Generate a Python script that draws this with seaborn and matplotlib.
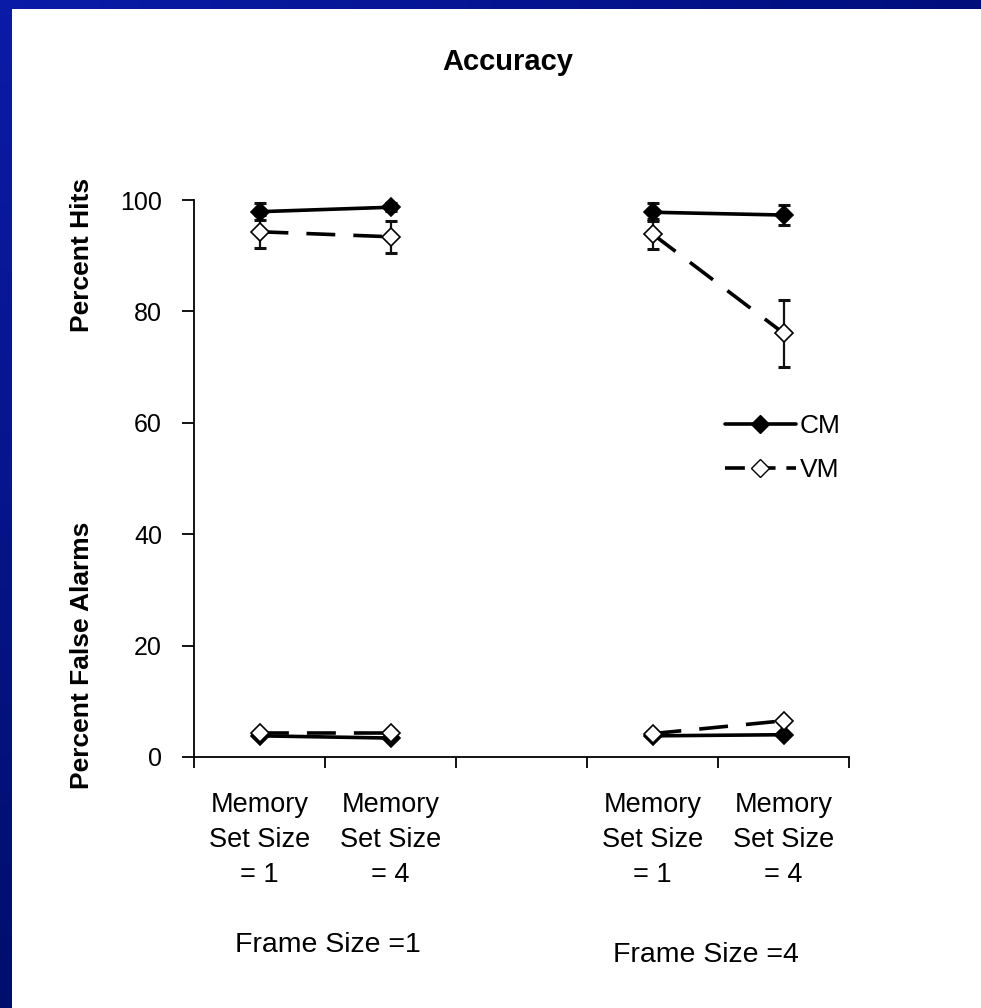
import numpy as np
import pandas as pd
import matplotlib
matplotlib.use("Agg")
import matplotlib.pyplot as plt
from matplotlib.lines import Line2D
import seaborn as sns

# ---------------- data ----------------
conditions = ["CM", "VM"]
category_labels = ["Memory\nSet Size\n= 1", "Memory\nSet Size\n= 4", "",
                   "Memory\nSet Size\n= 1", "Memory\nSet Size\n= 4"]
frame_labels = ["Frame Size =1", "Frame Size =4"]
positions = [0, 1, 3, 4]          # category slots used (slot 2 is empty)
frame_of_point = [1, 1, 4, 4]

hits_cm = [97.9, 98.7, 97.8, 97.3]
hits_vm = [94.3, 93.4, 93.9, 76.1]
hits_cm_err = [1.5, 0.7, 1.6, 1.8]
hits_vm_err = [3.0, 2.9, 2.7, 6.0]
fa_cm = [3.8, 3.4, 3.8, 4.0]
fa_vm = [4.3, 4.3, 4.2, 6.5]

title = "Accuracy"
ylabel_hits = "Percent Hits"
ylabel_fa = "Percent False Alarms"
yticks = [0, 20, 40, 60, 80, 100]

# ---------------- long table ----------------
rows = []
for cond, hits, fa in [("CM", hits_cm, fa_cm), ("VM", hits_vm, fa_vm)]:
    for p, f, h, a in zip(positions, frame_of_point, hits, fa):
        rows.append(dict(pos=p, value=h, cond=cond, measure="hits", frame=f,
                         grp=f"{cond}-hits-{f}"))
        rows.append(dict(pos=p, value=a, cond=cond, measure="fa", frame=f,
                         grp=f"{cond}-fa-{f}"))
df = pd.DataFrame(rows)

# ---------------- style ----------------
sns.set_theme(style="white")
plt.rcParams["font.family"] = ["Liberation Sans", "DejaVu Sans"]
plt.rcParams.update({"text.color": "black", "axes.labelcolor": "black",
                     "xtick.color": "black", "ytick.color": "black",
                     "axes.edgecolor": "black"})

W, H, DPI = 981, 1008, 100
fig = plt.figure(figsize=(W / DPI, H / DPI), dpi=DPI, facecolor="white")

# blue slide frame (top and left strips, gradient)
top = np.linspace([10, 28, 168], [0, 14, 124], W) / 255.0
top_img = np.tile(top[None, :, :], (9, 1, 1))
fig.figimage(top_img, xo=0, yo=H - 9, origin="upper", zorder=0)
left = np.linspace([10, 28, 168], [0, 14, 108], H) / 255.0
left_img = np.tile(left[:, None, :], (1, 12, 1))
fig.figimage(left_img, xo=0, yo=0, origin="upper", zorder=0)

ax_l, ax_r, ax_b, ax_t = 194, 849, 757, 200
ax = fig.add_axes([ax_l / W, 1 - ax_b / H, (ax_r - ax_l) / W, (ax_b - ax_t) / H])
ax.set_facecolor("none")

lw = 2.6
style = {
    "CM": dict(ls="-", mfc="black", z=3),
    "VM": dict(ls=(0, (8, 5)), mfc="white", z=4),
}

# error bars (hits only)
for cond, vals, errs in [("CM", hits_cm, hits_cm_err), ("VM", hits_vm, hits_vm_err)]:
    ax.errorbar(positions, vals, yerr=errs, fmt="none", ecolor="#111111",
                elinewidth=1.6, capsize=4.5, capthick=2.2, zorder=2, clip_on=False)

for cond in conditions:
    sub = df[df["cond"] == cond]
    sns.lineplot(data=sub, x="pos", y="value", units="grp", estimator=None,
                 sort=False, color="black", linewidth=lw, ax=ax, legend=False,
                 marker="D", markersize=9, markeredgecolor="black",
                 markeredgewidth=1.2, markerfacecolor=style[cond]["mfc"],
                 linestyle=style[cond]["ls"], zorder=style[cond]["z"],
                 clip_on=False)

# axes
ax.set_xlim(-0.5, 4.5)
ax.set_ylim(0, 100)
ax.set_yticks(yticks)
ax.set_yticklabels([str(t) for t in yticks], fontsize=18)
ax.set_xticks(np.arange(-0.5, 5.0, 1.0))
ax.set_xticklabels([])
ax.set_xticks(range(len(category_labels)), category_labels, minor=True)
ax.tick_params(axis="x", which="major", direction="out", length=8, width=1.3,
               color="black", bottom=True)
ax.tick_params(axis="x", which="minor", length=0, pad=25, labelsize=19.5)
ax.tick_params(axis="y", which="major", direction="out", length=9, width=1.3,
               color="black", pad=14, left=True)
for lab in ax.get_xticklabels(minor=True):
    lab.set_linespacing(1.45)
ax.set_xlabel("")
ax.set_ylabel("")
sns.despine(ax=ax)
for s in ["left", "bottom"]:
    ax.spines[s].set_linewidth(1.3)
    ax.spines[s].set_color("black")
ax.grid(False)

# legend (Excel style)
handles = [
    Line2D([], [], color="black", lw=lw, ls="-", marker="D", markersize=9,
           mfc="black", mec="black"),
    Line2D([], [], color="black", lw=lw, ls=(0, (5.5, 3)), marker="D", markersize=9,
           mfc="white", mec="black", mew=1.0),
]
ax.legend(handles, conditions, loc="center left", bbox_to_anchor=(0.81, 0.555),
          frameon=False, fontsize=19, handlelength=2.7, handletextpad=0.15,
          labelspacing=0.75, borderpad=0, borderaxespad=0, numpoints=1)

# texts
fig.text(508 / W, 1 - 62 / H, title, ha="center", va="center",
         fontsize=21, fontweight="bold")
fig.text(82 / W, 1 - 255 / H, ylabel_hits, rotation=90, ha="center",
         va="center", fontsize=19, fontweight="bold")
fig.text(82 / W, 1 - 655 / H, ylabel_fa, rotation=90, ha="center",
         va="center", fontsize=19, fontweight="bold")
fig.text(328 / W, 1 - 945 / H, frame_labels[0], ha="center", va="center", fontsize=20.5)
fig.text(706 / W, 1 - 955 / H, frame_labels[1], ha="center", va="center", fontsize=20.5)

fig.savefig("out.png", dpi=DPI, facecolor="white")
